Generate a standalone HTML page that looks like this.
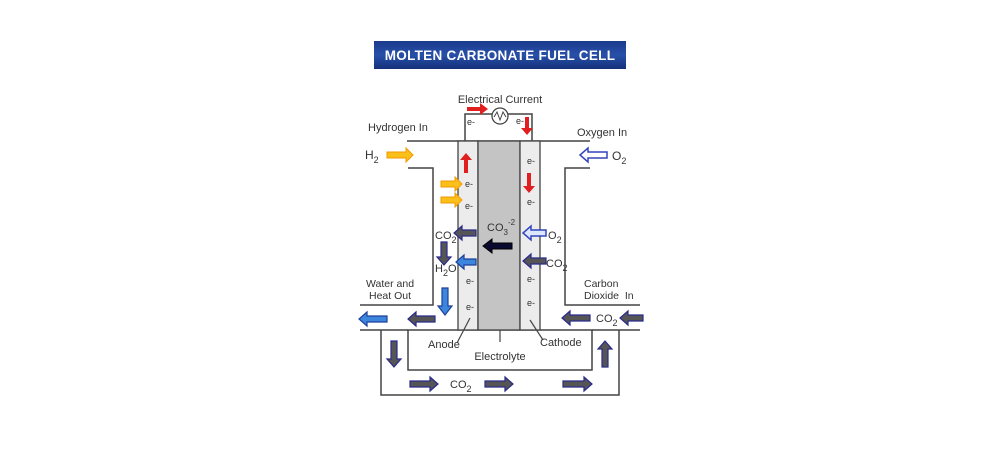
<!DOCTYPE html>
<html><head><meta charset="utf-8"><style>
html,body{margin:0;padding:0;background:#fff;}
svg{display:block;}
text{font-family:"Liberation Sans",sans-serif;fill:#333;}
</style></head><body>
<svg width="1000" height="455" viewBox="0 0 1000 455" xmlns="http://www.w3.org/2000/svg">
<defs>
<linearGradient id="tg" x1="0" y1="0" x2="0" y2="1">
<stop offset="0" stop-color="#1b3a8c"/><stop offset="0.5" stop-color="#2850a8"/><stop offset="1" stop-color="#14307a"/>
</linearGradient>
</defs>
<rect x="374" y="41" width="252" height="28" fill="url(#tg)"/>
<text x="500" y="60" text-anchor="middle" font-size="13.5" font-weight="bold" style="fill:#fff" letter-spacing="0.3">MOLTEN CARBONATE FUEL CELL</text>

<g stroke="#444" stroke-width="1.5" fill="none">
<line x1="407" y1="141" x2="590" y2="141"/>
<polyline points="408,168 433,168 433,305 360,305"/>
<polyline points="590,168 565,168 565,305 640,305"/>
<polyline points="360,330 408,330"/>
<polyline points="592,330 640,330"/>
<polyline points="381,330 381,395 619,395 619,330"/>
<rect x="408" y="330" width="184" height="40" fill="#fff"/>
<polyline points="465,141 465,114 492,114"/>
<polyline points="508,114 532,114 532,141"/>
</g>
<rect x="458" y="141" width="20" height="189" fill="#ececec" stroke="#444" stroke-width="1.3"/>
<rect x="478" y="141" width="42" height="189" fill="#c4c4c4" stroke="#444" stroke-width="1.3"/>
<rect x="520" y="141" width="20" height="189" fill="#ececec" stroke="#444" stroke-width="1.3"/>
<circle cx="500" cy="116" r="8" fill="#fff" stroke="#444" stroke-width="1.3"/>
<polyline points="494,117 497,112 500,120 503,112 506,117" fill="none" stroke="#444" stroke-width="1"/>
<g stroke="#444" stroke-width="1.2">
<line x1="470" y1="318" x2="457" y2="343"/>
<line x1="500" y1="330" x2="500" y2="342"/>
<line x1="530" y1="320" x2="543" y2="340"/>
</g>

<!-- orange -->
<g fill="#fbbf1a" stroke="#f29a00" stroke-width="1">
<polygon points="387,152 406,152 406,148 413,155 406,162 406,158 387,158"/>
<polygon points="441,181 455,181 455,177 462,184 455,191 455,187 441,187"/>
<polygon points="441,197 455,197 455,193 462,200 455,207 455,203 441,203"/>
</g>
<!-- O2 outline arrows -->
<g fill="#fff" stroke="#3344bb" stroke-width="1.5">
<polygon points="607,152 588,152 588,148 580,155 588,162 588,158 607,158"/>
</g>
<g fill="#dde8ff" stroke="#3344bb" stroke-width="1.5">
<polygon points="546,230 531,230 531,226 523,233 531,240 531,236 546,236"/>
</g>
<!-- red -->
<g fill="#e02020">
<polygon points="464,173 464,160 460,160 466,153 472,160 468,160 468,173"/>
<polygon points="527,173 527,186 523,186 529,193 535,186 531,186 531,173"/>
<polygon points="467,107 480,107 480,103 488,109 480,115 480,111 467,111"/>
<polygon points="525,117 525,128 521,128 527,135 533,128 529,128 529,117"/>
</g>
<!-- dark arrows -->
<g fill="#555" stroke="#2a2a8a" stroke-width="1.2">
<polygon points="476,230 462,230 462,226 454,233 462,240 462,236 476,236"/>
<polygon points="546,258 531,258 531,254 523,261 531,268 531,264 546,264"/>
<polygon points="441,242 441,257 437,257 444,265 451,257 447,257 447,242"/>
<polygon points="435,316 416,316 416,312 408,319 416,326 416,322 435,322"/>
<polygon points="590,315 570,315 570,311 562,318 570,325 570,321 590,321"/>
<polygon points="643,315 628,315 628,311 620,318 628,325 628,321 643,321"/>
<polygon points="391,341 391,359 387,359 394,367 401,359 397,359 397,341"/>
<polygon points="410,381 430,381 430,377 438,384 430,391 430,387 410,387"/>
<polygon points="485,381 505,381 505,377 513,384 505,391 505,387 485,387"/>
<polygon points="563,381 584,381 584,377 592,384 584,391 584,387 563,387"/>
<polygon points="602,367 602,349 598,349 605,341 612,349 608,349 608,367"/>
</g>
<polygon points="512,243 492,243 492,239 483,246 492,253 492,249 512,249" fill="#0a0a30" stroke="#000" stroke-width="1"/>
<!-- blue -->
<g fill="#3d86dd" stroke="#1f3f9a" stroke-width="1.2">
<polygon points="476,259 464,259 464,255 456,262 464,269 464,265 476,265"/>
<polygon points="442,288 442,306 438,306 445,315 452,306 448,306 448,288"/>
<polygon points="387,316 367,316 367,312 359,319 367,326 367,322 387,322"/>
</g>

<g font-size="11">
<text x="500" y="103" text-anchor="middle">Electrical Current</text>
<text x="368" y="131">Hydrogen In</text>
<text x="577" y="136">Oxygen In</text>
<text x="365" y="159" font-size="12">H<tspan font-size="9" dy="4">2</tspan></text>
<text x="612" y="160" font-size="12">O<tspan font-size="9" dy="4">2</tspan></text>
<g font-size="9">
<text x="467" y="125">e-</text><text x="516" y="124">e-</text>
<text x="465" y="187">e-</text><text x="465" y="209">e-</text>
<text x="527" y="164">e-</text><text x="527" y="205">e-</text>
<text x="466" y="284">e-</text><text x="466" y="310">e-</text>
<text x="527" y="282">e-</text><text x="527" y="306">e-</text>
</g>
<text x="487" y="231">CO<tspan font-size="8" dy="4">3</tspan><tspan font-size="8" dy="-10">-2</tspan></text>
<text x="435" y="239">CO<tspan font-size="9" dy="4">2</tspan></text>
<text x="548" y="239">O<tspan font-size="9" dy="4">2</tspan></text>
<text x="546" y="267">CO<tspan font-size="9" dy="4">2</tspan></text>
<text x="435" y="272">H<tspan font-size="9" dy="4">2</tspan><tspan dy="-4">O</tspan></text>
<text x="366" y="287" font-size="10.5">Water and</text>
<text x="369" y="299" font-size="10.5">Heat Out</text>
<text x="584" y="287" font-size="10.5">Carbon</text>
<text x="584" y="299" font-size="10.5">Dioxide&#160; In</text>
<text x="596" y="322">CO<tspan font-size="9" dy="4">2</tspan></text>
<text x="428" y="348">Anode</text>
<text x="500" y="360" text-anchor="middle">Electrolyte</text>
<text x="540" y="346">Cathode</text>
<text x="450" y="388">CO<tspan font-size="9" dy="4">2</tspan></text>
</g>
</svg>
</body></html>
